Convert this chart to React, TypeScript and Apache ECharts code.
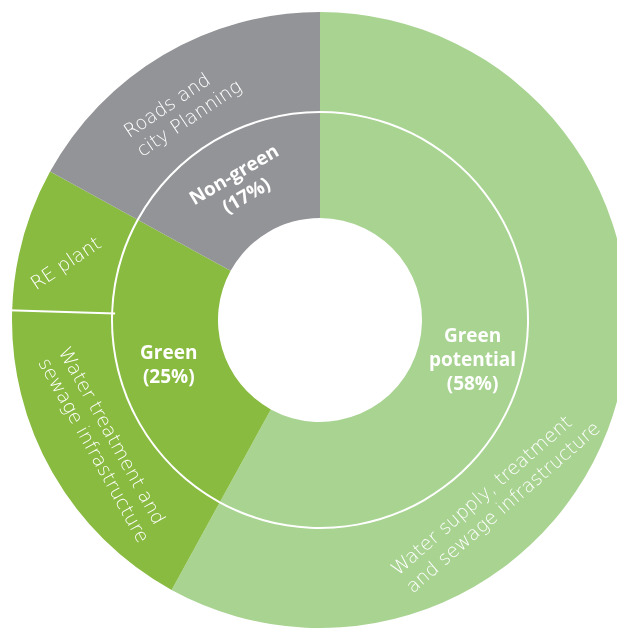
import React, { useEffect, useRef } from "react";
import * as echarts from "echarts";

// ---- data ----
const innerNames = ["Green potential", "Green", "Non-green"];
const innerValues = [58, 25, 17];
const innerLabels = ["Green\npotential\n(58%)", "Green\n(25%)", "Non-green\n(17%)"];

const outerNames = [
  "Water supply, treatment\nand sewage infrastructure",
  "Water treatment and\nsewage infrastructure",
  "RE plant",
  "Roads and\ncity Planning",
];
const outerValues = [58, 17.5, 7.5, 17];

// ---- styling ----
const LIGHT = "#a8d391";
const GREEN = "#89bb40";
const GREY = "#939497";
const innerColors = [LIGHT, GREEN, GREY];
const outerColors = [LIGHT, GREEN, GREEN, GREY];

const CX = 320;
const CY = 320;
const R0 = 102;
const R1 = 207;
const R2 = 209;
const R3 = 308;

// label placement for outer ring (polar anchor: radius, angle deg; rotation deg)
const outerLabelPlace = [
  { r: 272, a: -72.7, rot: 41 },
  { r: 268, a: 187.2, rot: -61 },
  { r: 290, a: 173, rot: 33.5 },
  { r: 259, a: 136.6, rot: 34 },
];

const polar = (r: number, deg: number) => {
  const t = (deg * Math.PI) / 180;
  return [CX + r * Math.cos(t), CY - r * Math.sin(t)];
};

export default function App() {
  const ref = useRef<HTMLDivElement>(null);
  useEffect(() => {
    if (!ref.current) return;
    const chart = echarts.init(ref.current, undefined, { renderer: "svg" });

    const total = outerValues.reduce((a, b) => a + b, 0);
    // separator between "Water treatment" and "RE plant"
    const cum = outerValues[0] + outerValues[1];
    const sepAngle = 90 - (360 * cum) / total;
    const p1 = polar(R1 - 2, sepAngle);
    const p2 = polar(R3 + 4, sepAngle);

    const texts = outerNames.map((name, i) => {
      const pl = outerLabelPlace[i];
      const [x, y] = polar(pl.r, pl.a);
      return {
        type: "text",
        x,
        y,
        z: 100,
        rotation: (pl.rot * Math.PI) / 180,
        silent: true,
        style: {
          text: name,
          fill: "#ffffff",
          fontFamily: "DejaVu Sans",
          fontWeight: 200,
          fontSize: 19,
          lineHeight: 23,
          align: "left",
          verticalAlign: "middle",
        },
      };
    });

    chart.setOption({
      animation: false,
      graphic: [
        {
          type: "line",
          z: 99,
          silent: true,
          shape: { x1: p1[0], y1: p1[1], x2: p2[0], y2: p2[1] },
          style: { stroke: "#ffffff", lineWidth: 2 },
        },
        ...texts,
      ],
      series: [
        {
          type: "pie",
          silent: true,
          center: [CX, CY],
          radius: [R0, R1],
          startAngle: 90,
          clockwise: true,
          avoidLabelOverlap: false,
          labelLine: { show: false },
          itemStyle: { borderWidth: 0 },
          label: {
            show: true,
            position: "inside",
            color: "#ffffff",
            fontFamily: "Open Sans",
            fontWeight: "bold",
            fontSize: 19,
            lineHeight: 24,
            align: "center",
          },
          data: innerNames.map((n, i) => ({
            name: n,
            value: innerValues[i],
            itemStyle: { color: innerColors[i] },
            label: {
              formatter: innerLabels[i],
              rotate: i === 2 ? "tangential" : 0,
            },
          })),
        },
        {
          type: "pie",
          silent: true,
          center: [CX, CY],
          radius: [R2, R3],
          startAngle: 90,
          clockwise: true,
          label: { show: false },
          labelLine: { show: false },
          itemStyle: { borderWidth: 0 },
          data: outerNames.map((n, i) => ({
            name: n,
            value: outerValues[i],
            itemStyle: { color: outerColors[i] },
          })),
        },
      ],
    });
    return () => chart.dispose();
  }, []);
  return (
    <div
      ref={ref}
      style={{ position: "fixed", left: 0, top: 0, width: 617, height: 628 }}
    />
  );
}
